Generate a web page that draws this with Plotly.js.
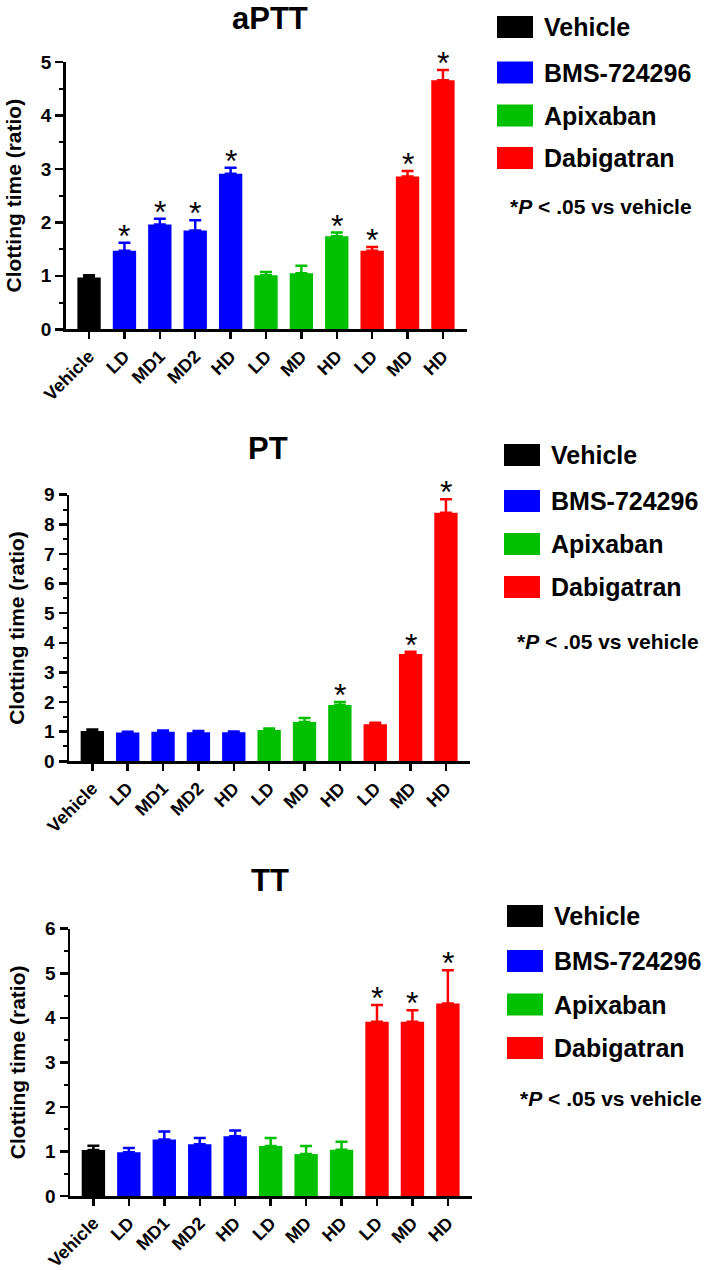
<!DOCTYPE html>
<html>
<head>
<meta charset="utf-8">
<script src="https://cdn.plot.ly/plotly-3.0.1.min.js"></script>
<style>html,body{margin:0;padding:0;background:#fff;}#chart{width:709px;height:1270px;}</style>
</head>
<body>
<div id="chart"></div>
<script>
// ---- Data ----
const categories = ['Vehicle','LD','MD1','MD2','HD','LD','MD','HD','LD','MD','HD'];
const groupOfBar = [0,1,1,1,1,2,2,2,3,3,3];
const groupNames = ['Vehicle','BMS-724296','Apixaban','Dabigatran'];
const groupColors = ['#000000','#0000FF','#00C000','#FF0000'];
const panelTitles = ['aPTT','PT','TT'];

const aPTT_mean = [0.97,1.47,1.96,1.85,2.91,1.01,1.05,1.74,1.47,2.86,4.66];
const aPTT_sem  = [0.04,0.15,0.11,0.19,0.11,0.06,0.14,0.07,0.07,0.10,0.19];
const aPTT_sig  = [0,1,1,1,1,0,0,1,1,1,1];

const PT_mean = [1.02,0.97,1.00,0.98,0.98,1.06,1.33,1.90,1.25,3.62,8.39];
const PT_sem  = [0.05,0.03,0.04,0.04,0.03,0.05,0.13,0.10,0.05,0.08,0.46];
const PT_sig  = [0,0,0,0,0,0,0,1,0,1,1];

const TT_mean = [1.03,0.98,1.27,1.16,1.34,1.12,0.94,1.04,3.91,3.91,4.32];
const TT_sem  = [0.10,0.10,0.18,0.14,0.13,0.18,0.18,0.18,0.38,0.26,0.75];
const TT_sig  = [0,0,0,0,0,0,0,0,1,1,1];

const yMax = [5,9,6];
const yTitle = 'Clotting time (ratio)';
const sigNote = '*<i>P</i> < .05 vs vehicle';

// ---- Layout geometry ----
const W = 709, H = 1270;
const FONT = 'Liberation Sans, Arial, sans-serif';
const panels = [
  {mean: aPTT_mean, sem: aPTT_sem, sig: aPTT_sig, xd:[65.7,467], yd:[62,329.3], titleXY:[270,18],
   legX:497, legY:[27,72.5,115.5,158], noteXY:[508,206]},
  {mean: PT_mean, sem: PT_sem, sig: PT_sig, xd:[69,470], yd:[494.7,761.3], titleXY:[268,448],
   legX:504, legY:[455,501,544,587], noteXY:[515,641]},
  {mean: TT_mean, sem: TT_sem, sig: TT_sig, xd:[70,472], yd:[928.7,1196], titleXY:[270,880.5],
   legX:507, legY:[916,961,1004.5,1048], noteXY:[518,1098]}
];
const px = v => v / W;
const py = v => 1 - v / H;

const traces = [];
const layout = {
  width: W, height: H,
  margin: {l:0, r:0, t:0, b:0},
  paper_bgcolor: '#fff', plot_bgcolor: '#fff',
  showlegend: false,
  barmode: 'overlay',
  font: {family: FONT, color: '#000'},
  annotations: [], shapes: []
};

panels.forEach((p, i) => {
  const k = i === 0 ? '' : String(i + 1);
  const xa = 'x' + k, ya = 'y' + k;
  groupNames.forEach((g, gi) => {
    const idx = [];
    groupOfBar.forEach((gg, j) => { if (gg === gi) idx.push(j); });
    traces.push({
      type: 'bar', name: g, xaxis: xa, yaxis: ya,
      x: idx, y: idx.map(j => p.mean[j]),
      width: 0.66,
      marker: {color: groupColors[gi], line: {width: 0}},
      error_y: {type: 'data', symmetric: false, array: idx.map(j => p.sem[j]),
                arrayminus: idx.map(() => 0), color: groupColors[gi], thickness: 2.5, width: 6},
      hoverinfo: 'skip'
    });
  });
  // significance stars above error bars
  p.sig.forEach((s, j) => {
    if (!s) return;
    layout.annotations.push({
      xref: xa, yref: ya, x: j, y: p.mean[j] + p.sem[j],
      xanchor: 'center', yanchor: 'middle', yshift: 7, showarrow: false, text: '*',
      font: {family: FONT, size: 32, color: '#000'}
    });
  });

  layout['xaxis' + k] = {
    domain: [px(p.xd[0]), px(p.xd[1])], anchor: ya,
    range: [-0.66, 10.68], fixedrange: true,
    tickmode: 'array', tickvals: categories.map((c, j) => j), ticktext: categories,
    tickangle: -45, ticks: 'outside', ticklen: 7, tickwidth: 2.5, tickcolor: '#000',
    showline: true, linewidth: 2.5, linecolor: '#000', showgrid: false, zeroline: false,
    tickfont: {family: FONT, size: 18, color: '#000', weight: 'bold'}
  };
  layout['yaxis' + k] = {
    domain: [py(p.yd[1]), py(p.yd[0])], anchor: xa,
    range: [0, yMax[i]], dtick: 1, fixedrange: true,
    ticks: 'outside', ticklen: 8, tickwidth: 2.5, tickcolor: '#000',
    minor: {dtick: 0.5, ticks: 'outside', ticklen: 4, tickwidth: 2, tickcolor: '#000'},
    showline: true, linewidth: 2.5, linecolor: '#000', showgrid: false, zeroline: false,
    tickfont: {family: FONT, size: 19, color: '#000', weight: 'bold'},
    title: {text: yTitle, standoff: 14, font: {family: FONT, size: 21, color: '#000', weight: 'bold'}}
  };
  layout.annotations.push({
    xref: 'paper', yref: 'paper', x: px(p.titleXY[0]), y: py(p.titleXY[1]),
    xanchor: 'center', yanchor: 'middle', showarrow: false, text: '<b>' + panelTitles[i] + '</b>',
    font: {family: FONT, size: 31, color: '#000'}
  });
  groupNames.forEach((g, gi) => {
    const cy = p.legY[gi];
    layout.shapes.push({
      type: 'rect', xref: 'paper', yref: 'paper',
      x0: px(p.legX), x1: px(p.legX + 36), y0: py(cy + 11), y1: py(cy - 11),
      fillcolor: groupColors[gi], line: {width: 0}
    });
    layout.annotations.push({
      xref: 'paper', yref: 'paper', x: px(p.legX + 45), y: py(cy),
      xanchor: 'left', yanchor: 'middle', showarrow: false, text: '<b>' + g + '</b>',
      font: {family: FONT, size: 25, color: '#000'}
    });
  });
  layout.annotations.push({
    xref: 'paper', yref: 'paper', x: px(p.noteXY[0]), y: py(p.noteXY[1]),
    xanchor: 'left', yanchor: 'middle', showarrow: false, text: '<b>' + sigNote + '</b>',
    font: {family: FONT, size: 21, color: '#000'}
  });
});

Plotly.newPlot('chart', traces, layout, {displayModeBar: false, staticPlot: true});
</script>
</body>
</html>
